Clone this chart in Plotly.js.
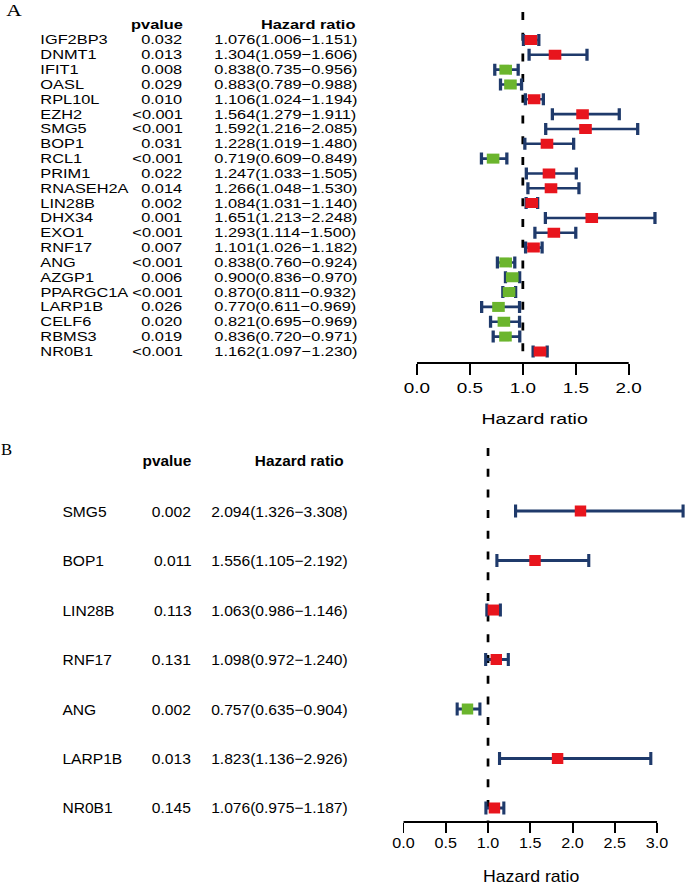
<!doctype html>
<html>
<head>
<meta charset="utf-8">
<script src="https://cdn.plot.ly/plotly-3.0.1.min.js"></script>
<style>
  html, body { margin:0; padding:0; background:#fff; width:685px; height:891px; overflow:hidden; }
  .panel { position:absolute; left:0; transform-origin:0 0; }
  #pa { top:0; transform:scaleX(1.26); }
  #pb { top:440px; transform:scaleX(1.04); }
</style>
</head>
<body>
<div id="pa" class="panel"></div>
<div id="pb" class="panel"></div>
<script>
// panel A: univariate
const genesA = ['IGF2BP3','DNMT1','IFIT1','OASL','RPL10L','EZH2','SMG5','BOP1','RCL1','PRIM1','RNASEH2A',
  'LIN28B','DHX34','EXO1','RNF17','ANG','AZGP1','PPARGC1A','LARP1B','CELF6','RBMS3','NR0B1'];
const pvalA = ['0.032','0.013','0.008','0.029','0.010','<0.001','<0.001','0.031','<0.001','0.022','0.014',
  '0.002','0.001','<0.001','0.007','<0.001','0.006','<0.001','0.026','0.020','0.019','<0.001'];
const hrA  = [1.076,1.304,0.838,0.883,1.106,1.564,1.592,1.228,0.719,1.247,1.266,1.084,1.651,1.293,1.101,0.838,0.900,0.870,0.770,0.821,0.836,1.162];
const lowA = [1.006,1.059,0.735,0.789,1.024,1.279,1.216,1.019,0.609,1.033,1.048,1.031,1.213,1.114,1.026,0.760,0.836,0.811,0.611,0.695,0.720,1.097];
const upA  = [1.151,1.606,0.956,0.988,1.194,1.911,2.085,1.480,0.849,1.505,1.530,1.140,2.248,1.500,1.182,0.924,0.970,0.932,0.969,0.969,0.971,1.230];
const ticksA = [0, 0.5, 1.0, 1.5, 2.0];

// panel B: multivariate
const genesB = ['SMG5','BOP1','LIN28B','RNF17','ANG','LARP1B','NR0B1'];
const pvalB = ['0.002','0.011','0.113','0.131','0.002','0.013','0.145'];
const hrB  = [2.094,1.556,1.063,1.098,0.757,1.823,1.076];
const lowB = [1.326,1.105,0.986,0.972,0.635,1.136,0.975];
const upB  = [3.308,2.192,1.146,1.240,0.904,2.926,1.187];
const ticksB = [0, 0.5, 1.0, 1.5, 2.0, 2.5, 3.0];

const RED = '#e8151d', GREEN = '#6bb52d', NAVY = '#1f3a6b';
const FONT = 'Liberation Sans, Arial, sans-serif';
const SERIF = 'Liberation Serif, Times New Roman, serif';
const W = 685;

function forest(el, c) {
  const n = c.genes.length;
  const yv = c.genes.map((g, i) => n - i);
  const rowH = (c.lastRow - c.firstRow) / (n - 1);
  const ypx = (px) => 1 + (c.lastRow - px) / rowH;          // screen px -> y value
  const py = (px) => (c.axisY - px) / (c.axisY - c.top);     // screen px -> paper y
  const fx = (px) => px / W;                                 // screen px -> paper x

  const trace = {
    type: 'scatter', mode: 'markers', x: c.hr, y: yv,
    marker: { symbol: 'square', size: c.msize, color: c.hr.map(v => v > 1 ? RED : GREEN), line: { width: 0 } },
    error_x: {
      type: 'data', symmetric: false,
      array: c.up.map((u, i) => u - c.hr[i]),
      arrayminus: c.low.map((l, i) => c.hr[i] - l),
      color: NAVY, thickness: c.ebt, width: c.ebw
    },
    hoverinfo: 'skip', cliponaxis: false
  };

  const tf = { family: FONT, size: c.fs, color: '#000' };
  const hf = { family: FONT, size: c.hs, color: '#000', weight: 'bold' };
  const ann = [];
  c.genes.forEach((g, i) => {
    const base = { xref: 'paper', yref: 'y', y: yv[i], yanchor: 'middle', showarrow: false, font: tf };
    ann.push({ ...base, x: fx(c.colName), xanchor: 'left', text: g });
    ann.push({ ...base, x: fx(c.colP), xanchor: 'right', text: c.p[i] });
    ann.push({ ...base, x: fx(c.colHR), xanchor: 'left',
      text: c.hr[i].toFixed(3) + '(' + c.low[i].toFixed(3) + '\u2212' + c.up[i].toFixed(3) + ')' });
  });
  ann.push({ xref: 'paper', yref: 'paper', x: fx(c.colP), y: py(c.headY), xanchor: 'right', yanchor: 'middle',
    showarrow: false, text: '<b>pvalue</b>', font: hf });
  ann.push({ xref: 'paper', yref: 'paper', x: fx(c.colHRend), y: py(c.headY), xanchor: 'right', yanchor: 'middle',
    showarrow: false, text: '<b>Hazard ratio</b>', font: hf });
  ann.push({ xref: 'paper', yref: 'paper', x: fx(c.labX), y: py(c.labY), xanchor: 'left', yanchor: 'middle',
    showarrow: false, text: c.label, font: { family: SERIF, size: c.labS, color: '#000' } });

  const last = c.ticks[c.ticks.length - 1];
  const layout = {
    width: W / c.sx, height: c.h,
    margin: { l: 0, r: 0, t: c.top, b: c.h - c.axisY, pad: 0 },
    paper_bgcolor: '#fff', plot_bgcolor: 'rgba(0,0,0,0)', showlegend: false,
    xaxis: {
      domain: [c.dom0, 1],
      range: [(c.dom0 * W - c.x0px) / c.unit, (W - c.x0px) / c.unit],
      tickvals: c.ticks, ticktext: c.ticks.map(v => v.toFixed(1)),
      ticks: 'outside', ticklen: c.ticklen, tickwidth: c.tickw, tickcolor: '#000',
      ticklabelstandoff: c.tlso,
      showline: false, showgrid: false, zeroline: false,
      tickfont: { family: FONT, size: c.tickS, color: '#000' },
      title: { text: 'Hazard ratio', font: { family: FONT, size: c.titleS, color: '#000' }, standoff: c.standoff },
      fixedrange: true
    },
    yaxis: { range: [ypx(c.axisY), ypx(c.top)], visible: false, fixedrange: true },
    shapes: [
      { type: 'line', xref: 'x', yref: 'paper', x0: 0, x1: last, y0: 0, y1: 0, line: { color: '#000', width: 2 } },
      { type: 'line', xref: 'x', yref: 'paper', x0: 1, x1: 1, y0: 1, y1: 0, layer: 'below',
        line: { color: '#000', width: c.dashW, dash: '8px,12.7px' } }
    ],
    annotations: ann
  };
  Plotly.newPlot(el, [trace], layout, { staticPlot: true, displayModeBar: false });
}

forest('pa', {
  genes: genesA, p: pvalA, hr: hrA, low: lowA, up: upA, ticks: ticksA, label: 'A',
  sx: 1.26, h: 440, top: 12, axisY: 363.3, firstRow: 40, lastRow: 351.7, headY: 25,
  x0px: 416.7, unit: 105.8, dom0: 0.56,
  colName: 38, colP: 185, colHR: 212, colHRend: 357, labX: 4, labY: 10.5, labS: 17,
  fs: 13, hs: 13, tickS: 15, titleS: 15.5, standoff: 18, tlso: 0, ticklen: 11, tickw: 1.6,
  msize: 10, ebt: 2.6, ebw: 6, dashW: 2.2
});

forest('pb', {
  genes: genesB, p: pvalB, hr: hrB, low: lowB, up: upB, ticks: ticksB, label: 'B',
  sx: 1.04, h: 451, top: 8, axisY: 381.7, firstRow: 71, lastRow: 367.7, headY: 20.7,
  x0px: 403.3, unit: 84.47, dom0: 0.55,
  colName: 60, colP: 193, colHR: 209, colHRend: 346, labX: -1, labY: 9.5, labS: 16,
  fs: 15, hs: 14.8, tickS: 15.5, titleS: 17, standoff: 20, tlso: -4, ticklen: 10, tickw: 1.9,
  msize: 11, ebt: 3, ebw: 6.5, dashW: 2.6
});
</script>
</body>
</html>
